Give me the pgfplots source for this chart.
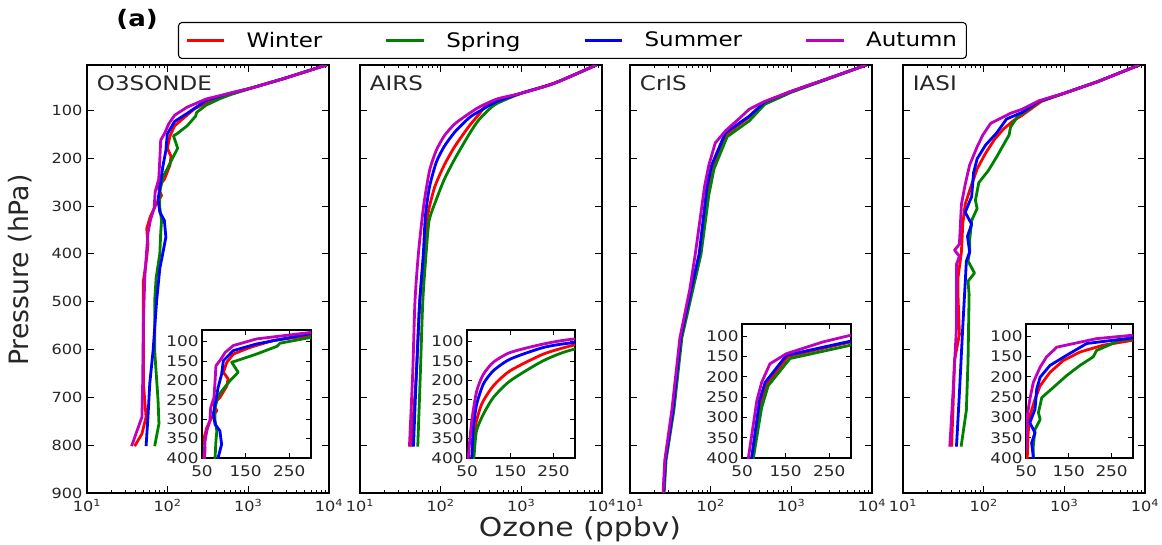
\documentclass[border=0pt]{standalone}
\usepackage{pgfplots}
\pgfplotsset{compat=1.18}
\usepackage{pgfplotstable}
\usepackage{fontspec}
\setmainfont{DejaVu Sans}[FakeStretch=1.15]
\newfontfamily\plainfont{DejaVu Sans}
\definecolor{cW}{rgb}{1,0,0}
\definecolor{cSp}{rgb}{0,0.5,0}
\definecolor{cSu}{rgb}{0,0,1}
\definecolor{cA}{rgb}{0.75,0,0.75}

% ---------------- O3SONDE ----------------
\pgfplotstableread{
x p
9300 5
2800 33
1100 53
600 66
420 76
300 84
213 97
160 115
122 132
107 153
99 179
110 196
107 214
91 244
76 261
84 278
72 296
61 322
55 347
57 380
55 408
50 457
50 554
50 671
54 741
48 776
39 802
}\tOW
\pgfplotstableread{
x p
9300 5
2800 33
1100 53
600 67
450 75
300 89
229 104
222 112
175 132
130 149
118 153
133 179
114 201
99 222
87 240
80 270
80 304
84 330
82 356
80 399
72 450
69 498
69 602
76 706
78 755
69 802
}\tOSp
\pgfplotstableread{
x p
9300 5
2800 33
1100 53
560 65
300 79
175 106
122 123
99 149
95 184
87 218
80 261
76 287
80 313
91 330
95 365
87 399
80 430
73 498
66 602
60 671
57 741
54 802
}\tOSu
\pgfplotstableread{
x p
9300 5
2800 33
1100 53
560 65
301 76
175 93
122 110
103 128
91 149
82 162
80 201
77.5 244
70 270
68 304
61 330
57 356
54.6 399
52 450
50 546
49 671
48 741
35.7 802
}\tOA
% ---------------- AIRS ----------------
\pgfplotstableread{
x p
8500 5
2570 43
1000 64
390 86
300 108
227 132
150 175
111 214
84 261
68.5 322
63 399
55 500
50 650
43 803
}\tAW
\pgfplotstableread{
x p
8500 5
2570 43
1000 64
470 88
300 119
227 149
150 201
111 244
88 287
72 330
66 399
60 500
56 650
52 803
}\tASp
\pgfplotstableread{
x p
8500 5
2570 43
1000 64
500 81
300 102
227 115
150 145
111 175
88 209
72.5 261
64.6 322
61 399
55 500
50 650
46 803
}\tASu
\pgfplotstableread{
x p
8500 5
2570 43
1000 64
500 76
300 93
227 106
150 128
111 153
88 184
72.5 227
61 304
53 399
48 500
45 650
41 803
}\tAA
% ---------------- CrIS ----------------
\pgfplotstableread{
x p
8500 5
2570 36
1000 60
470 83
300 114
155 150
107 218
92 265
74 400
57 475
43 575
34 727
27.5 831
26 900
}\tCW
\pgfplotstableread{
x p
8500 5
2570 37
1000 62
470 87
300 122
160 155
110 222
95 276
76 400
60 475
44 575
35 727
28 831
26.5 900
}\tCSp
\pgfplotstableread{
x p
8500 5
2570 36
1000 60
470 82
300 112
152 147
103 214
90 259
72 400
57 475
42.5 575
34 727
27.5 831
26 900
}\tCSu
\pgfplotstableread{
x p
8500 5
2570 36
1000 60
470 81
300 97.5
236 114
152 143
114 168
95 214
84 259
64.5 400
55 475
41.6 575
33 727
27 831
25.7 900
}\tCA
% ---------------- IASI ----------------
\pgfplotstableread{
x p
8500 5
2570 40
1000 64
520 81
300 110
231 122
176 139
137 160
106 189
83 222
71 255
59 296
55 338
53 396
48 450
48 485
50 568
43.5 623
41.6 727
40 803
}\tIW
\pgfplotstableread{
x p
8500 5
2570 40
1000 64
480 82
300 107
270 110
215 135
207 151
176 172
145 197
114 226
87 251
79 288
83 305
71 330
67 371
67 396
64 415
77 440
64 457
66 485
64 623
61 727
52.5 803
}\tISp
\pgfplotstableread{
x p
8500 5
2570 40
1000 64
480 81
300 104
192 118
145 147
106 172
83 201
75 230
71 280
59 313
71 338
63 363
67 396
61 415
59.5 450
55 554
50 692
46 803
}\tISu
\pgfplotstableread{
x p
8500 5
2570 40
1000 64
480 80
300 97.5
215 106
122 127
98 151
83 176
67 214
59 255
53 296
50 380
43.5 392
50 405
46 422
46 450
46 554
41.6 692
38 803
}\tIA

\newcommand{\fourplots}[5][]{%
  \addplot[cW, line width=2.1pt, line join=round, #1] table[x=x,y=p] {#2};
  \addplot[cSp, line width=2.1pt, line join=round, #1] table[x=x,y=p] {#3};
  \addplot[cSu, line width=2.1pt, line join=round, #1] table[x=x,y=p] {#4};
  \addplot[cA, line width=2.1pt, line join=round, #1] table[x=x,y=p] {#5};
}

\pgfplotsset{
  mainax/.style={
    scale only axis, width=181.5pt, height=321pt, anchor=north west,
    xmin=10, xmax=10000, ymin=5, ymax=900, y dir=reverse,
    xtick={10,100,1000,10000},
    xticklabels={10\textsuperscript{1},10\textsuperscript{2},10\textsuperscript{3},10\textsuperscript{4}},
    minor xtick={20,30,40,50,60,70,80,90,200,300,400,500,600,700,800,900,2000,3000,4000,5000,6000,7000,8000,9000},
    ytick={100,200,300,400,500,600,700,800,900},
    yticklabels={100,200,300,400,500,600,700,800,900},
    tick align=inside, xtick pos=both, ytick pos=both,
    major tick length=5pt, minor tick length=2.5pt,
    tick style={black, line width=0.7pt},
    axis line style={line width=1.2pt},
    tick label style={font=\fontsize{10.5}{10.5}\selectfont, text=black!85},
    xticklabel style={yshift=-1pt},
  },
  insetax/.style={
    scale only axis, anchor=north west,
    xmin=50, xmax=300, ymin=70, ymax=400, y dir=reverse,
    xtick={50,150,250}, ytick={100,150,200,250,300,350,400},
    xticklabels={50,150,250}, yticklabels={100,150,200,250,300,350,400},
    tick align=inside, xtick pos=both, ytick pos=both,
    major tick length=4pt,
    tick style={black, line width=0.7pt},
    axis line style={line width=1.2pt},
    axis background/.style={fill=white},
    tick label style={font=\fontsize{11}{11}\selectfont, text=black!85},
    yticklabel style={xshift=1pt},
    xticklabel style={yshift=-2.5pt},
  },
}
\newcommand{\pname}[1]{\node[anchor=north west, font=\fontsize{15}{15}\selectfont, inner sep=0pt, text=black!85] at (rel axis cs:0.04,0.975) {#1};}

\begin{document}
\begin{tikzpicture}
\useasboundingbox (0pt,0pt) rectangle (871.5pt,-408.75pt);

% Panel 1
\begin{semilogxaxis}[mainax, at={(65.25pt,-48.75pt)},
  ylabel={Pressure (hPa)},
  ylabel style={at={(axis description cs:-0.277,0.521)}, anchor=center, font=\plainfont\fontsize{20}{20}\selectfont, text=black!85},
  xlabel={Ozone (ppbv)},
  xlabel style={at={(axis description cs:2.037,-0.085)}, anchor=center, font=\fontsize{19.5}{19.5}\selectfont, text=black!85},
  every axis title shift=0pt,
  title={\textbf{(a)}},
  title style={at={(axis description cs:0.207,1.107)}, anchor=center, font=\fontsize{17}{17}\selectfont},
  legend columns=4,
  legend style={at={(0.376,1.1005)}, anchor=north west, draw=black, line width=0.8pt, rounded corners=2.5pt,
    font=\fontsize{15}{15}\selectfont, inner xsep=5pt, inner ysep=5pt,
    /tikz/every odd column/.append style={column sep=14pt},
    /tikz/every even column/.append style={column sep=45pt}},
  legend image code/.code={\draw[#1, line width=2pt, sharp corners] (0pt,0pt) -- (28pt,0pt);},
]
\fourplots{\tOW}{\tOSp}{\tOSu}{\tOA}
\legend{Winter,Spring,Summer,Autumn}
\pname{O3SONDE}
\end{semilogxaxis}
\begin{axis}[insetax, at={(151.5pt,-247.5pt)}, width=81.75pt, height=96pt]
\fourplots{\tOW}{\tOSp}{\tOSu}{\tOA}
\end{axis}

% Panel 2
\begin{semilogxaxis}[mainax, at={(270pt,-48.75pt)}, yticklabels={}]
\fourplots[smooth, tension=0.4]{\tAW}{\tASp}{\tASu}{\tAA}
\pname{AIRS}
\end{semilogxaxis}
\begin{axis}[insetax, at={(350.25pt,-247.5pt)}, width=81pt, height=96pt]
\fourplots[smooth, tension=0.4]{\tAW}{\tASp}{\tASu}{\tAA}
\end{axis}

% Panel 3
\begin{semilogxaxis}[mainax, at={(472.5pt,-48.75pt)}, yticklabels={}]
\fourplots{\tCW}{\tCSp}{\tCSu}{\tCA}
\pname{CrIS}
\end{semilogxaxis}
\begin{axis}[insetax, at={(556.5pt,-243pt)}, width=81.75pt, height=100.5pt]
\fourplots{\tCW}{\tCSp}{\tCSu}{\tCA}
\end{axis}

% Panel 4
\begin{semilogxaxis}[mainax, at={(677.25pt,-48.75pt)}, yticklabels={}]
\fourplots{\tIW}{\tISp}{\tISu}{\tIA}
\pname{IASI}
\end{semilogxaxis}
\begin{axis}[insetax, at={(769.5pt,-243pt)}, width=80.25pt, height=100.5pt]
\fourplots{\tIW}{\tISp}{\tISu}{\tIA}
\end{axis}
\end{tikzpicture}
\end{document}
